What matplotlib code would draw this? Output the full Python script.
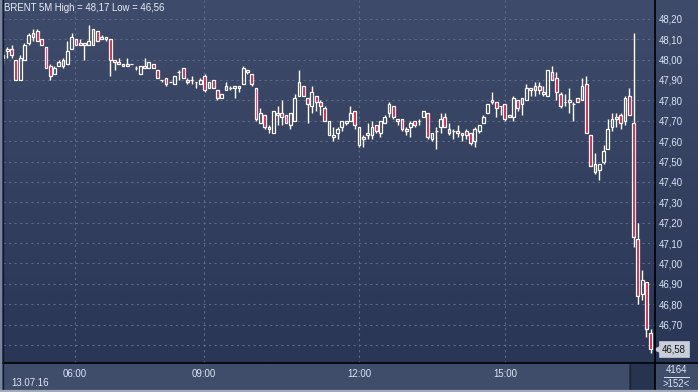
import numpy as np
import matplotlib.pyplot as plt
from matplotlib.lines import Line2D
from matplotlib.patches import Rectangle
from matplotlib.colors import LinearSegmentedColormap
from matplotlib.transforms import blended_transform_factory

plt.rcParams['font.family'] = ['Liberation Sans', 'DejaVu Sans']

# BRENT 5 minute candles, 13.07.16
opens = [48.01, 48.04, 48.05, 48.00, 47.90, 48.00, 48.08, 48.11, 48.14, 48.10,
         48.06, 47.97, 47.93, 47.97, 47.97, 47.98, 48.05, 48.10, 48.08, 48.07,
         48.07, 48.07, 48.14, 48.10, 48.10, 48.10, 48.00, 47.99, 47.98, 47.98,
         47.98, 47.96, 47.93, 47.97, 47.96, 47.98, 47.95, 47.90, 47.91, 47.89,
         47.88, 47.94, 47.96, 47.90, 47.90, 47.89, 47.88, 47.92, 47.86, 47.90,
         47.85, 47.81, 47.85, 47.86, 47.86, 47.86, 47.88, 47.95, 47.93, 47.86,
         47.69, 47.73, 47.66, 47.64, 47.74, 47.74, 47.73, 47.68, 47.70, 47.82,
         47.87, 47.81, 47.77, 47.82, 47.79, 47.76, 47.70, 47.62, 47.64, 47.67,
         47.69, 47.70, 47.75, 47.67, 47.61, 47.63, 47.63, 47.68, 47.64, 47.69,
         47.74, 47.77, 47.71, 47.71, 47.65, 47.67, 47.70, 47.70, 47.72, 47.74,
         47.61, 47.65, 47.67, 47.72, 47.66, 47.65, 47.65, 47.63, 47.65, 47.64,
         47.60, 47.65, 47.69, 47.74, 47.80, 47.79, 47.77, 47.78, 47.72, 47.72,
         47.80, 47.78, 47.80, 47.85, 47.87, 47.87, 47.83, 47.82, 47.94, 47.91,
         47.83, 47.79, 47.80, 47.78, 47.81, 47.80, 47.88, 47.63, 47.49, 47.46,
         47.50, 47.56, 47.67, 47.72, 47.73, 47.70, 47.82, 47.69, 47.12, 46.85,
         46.91, 46.66]
highs = [48.04, 48.06, 48.07, 48.00, 48.02, 48.08, 48.13, 48.15, 48.15, 48.10,
         48.06, 47.98, 47.97, 48.00, 48.01, 48.09, 48.13, 48.10, 48.10, 48.08,
         48.17, 48.15, 48.14, 48.12, 48.11, 48.10, 48.00, 48.01, 47.98, 48.01,
         47.98, 47.97, 47.97, 48.01, 47.99, 47.98, 47.95, 47.90, 47.91, 47.89,
         47.92, 47.95, 47.96, 47.91, 47.92, 47.89, 47.91, 47.93, 47.89, 47.90,
         47.85, 47.83, 47.89, 47.87, 47.87, 47.87, 47.97, 47.95, 47.93, 47.86,
         47.76, 47.73, 47.68, 47.75, 47.77, 47.80, 47.73, 47.74, 47.83, 47.95,
         47.87, 47.81, 47.87, 47.82, 47.80, 47.77, 47.70, 47.67, 47.67, 47.70,
         47.70, 47.77, 47.75, 47.67, 47.63, 47.69, 47.70, 47.68, 47.70, 47.73,
         47.79, 47.77, 47.71, 47.71, 47.67, 47.70, 47.70, 47.71, 47.75, 47.74,
         47.64, 47.67, 47.74, 47.74, 47.69, 47.66, 47.68, 47.64, 47.66, 47.64,
         47.67, 47.68, 47.73, 47.78, 47.84, 47.79, 47.77, 47.78, 47.73, 47.82,
         47.80, 47.81, 47.88, 47.86, 47.89, 47.89, 47.87, 47.95, 47.97, 47.94,
         47.84, 47.83, 47.86, 47.79, 47.81, 47.91, 47.92, 47.63, 47.54, 47.49,
         47.58, 47.71, 47.74, 47.74, 47.74, 47.82, 47.86, 48.13, 47.20, 46.97,
         46.91, 46.68]
lows = [47.98, 48.01, 48.01, 47.90, 47.90, 48.00, 48.07, 48.09, 48.09, 48.07,
        47.96, 47.90, 47.93, 47.97, 47.96, 47.98, 48.05, 48.07, 48.07, 48.00,
        48.07, 48.07, 48.09, 48.10, 48.09, 47.92, 47.95, 47.98, 47.97, 47.97,
        47.98, 47.95, 47.93, 47.96, 47.96, 47.96, 47.91, 47.89, 47.87, 47.89,
        47.88, 47.90, 47.91, 47.88, 47.88, 47.86, 47.88, 47.84, 47.86, 47.86,
        47.80, 47.81, 47.85, 47.85, 47.81, 47.84, 47.88, 47.93, 47.87, 47.70,
        47.69, 47.66, 47.64, 47.64, 47.68, 47.68, 47.69, 47.66, 47.70, 47.82,
        47.82, 47.69, 47.74, 47.75, 47.73, 47.70, 47.63, 47.60, 47.61, 47.65,
        47.68, 47.70, 47.66, 47.57, 47.57, 47.61, 47.61, 47.64, 47.62, 47.69,
        47.72, 47.71, 47.68, 47.65, 47.63, 47.62, 47.67, 47.68, 47.72, 47.61,
        47.60, 47.56, 47.64, 47.67, 47.63, 47.61, 47.62, 47.60, 47.61, 47.58,
        47.57, 47.64, 47.69, 47.74, 47.78, 47.72, 47.73, 47.70, 47.72, 47.70,
        47.75, 47.73, 47.80, 47.82, 47.82, 47.83, 47.82, 47.82, 47.90, 47.80,
        47.76, 47.77, 47.74, 47.70, 47.79, 47.80, 47.64, 47.48, 47.44, 47.41,
        47.49, 47.56, 47.65, 47.67, 47.66, 47.68, 47.73, 47.08, 46.80, 46.82,
        46.64, 46.56]
closes = [48.02, 48.05, 48.02, 47.90, 48.01, 48.07, 48.12, 48.13, 48.09, 48.07,
          47.96, 47.92, 47.96, 47.99, 48.00, 48.04, 48.11, 48.07, 48.07, 48.08,
          48.09, 48.15, 48.09, 48.11, 48.11, 48.00, 47.99, 47.98, 47.97, 47.97,
          47.98, 47.96, 47.97, 47.96, 47.99, 47.96, 47.91, 47.90, 47.88, 47.89,
          47.92, 47.94, 47.91, 47.89, 47.90, 47.89, 47.90, 47.85, 47.89, 47.86,
          47.81, 47.83, 47.87, 47.86, 47.87, 47.87, 47.96, 47.94, 47.88, 47.71,
          47.74, 47.67, 47.67, 47.75, 47.73, 47.72, 47.69, 47.74, 47.81, 47.89,
          47.82, 47.78, 47.84, 47.79, 47.77, 47.70, 47.63, 47.63, 47.66, 47.70,
          47.70, 47.74, 47.68, 47.58, 47.62, 47.64, 47.67, 47.65, 47.70, 47.72,
          47.78, 47.72, 47.70, 47.66, 47.66, 47.69, 47.68, 47.70, 47.75, 47.62,
          47.64, 47.65, 47.71, 47.67, 47.64, 47.65, 47.64, 47.64, 47.63, 47.59,
          47.66, 47.68, 47.72, 47.78, 47.79, 47.76, 47.77, 47.71, 47.73, 47.81,
          47.76, 47.81, 47.86, 47.86, 47.85, 47.85, 47.84, 47.95, 47.90, 47.84,
          47.77, 47.79, 47.79, 47.78, 47.79, 47.87, 47.64, 47.48, 47.45, 47.49,
          47.55, 47.66, 47.71, 47.71, 47.69, 47.81, 47.73, 47.13, 46.84, 46.92,
          46.68, 46.58]

time_labels = ['06:00', '09:00', '12:00', '15:00']
time_pos = [16.8, 46.9, 83.0, 117.0]
price_ticks = [46.60, 46.70, 46.80, 46.90, 47.00, 47.10, 47.20, 47.30, 47.40,
               47.50, 47.60, 47.70, 47.80, 47.90, 48.00, 48.10, 48.20]
title = 'BRENT 5M High = 48,17 Low = 46,56'
date_label = '13.07.16'
bars_total = '4164'
bars_shown = '>152<'

W, H = 698, 392
txt = '#dde6f7'
red = '#e3143e'
fs = 6.9

fig = plt.figure(figsize=(W / 100, H / 100), dpi=100)
fig.patch.set_facecolor('#3f4d6b')

# gradient behind chart and price column
bg = fig.add_axes([0, 29 / H, 1, 363 / H])
cmap = LinearSegmentedColormap.from_list('bg', ['#3e4b6a', '#293656'])
bg.imshow(np.linspace(0, 1, 256).reshape(-1, 1), aspect='auto', cmap=cmap,
          extent=[0, 1, 0, 1], origin='upper')
bg.axis('off')

ax = fig.add_axes([3 / W, 29 / H, 652 / W, 363 / H])
ax.set_facecolor('none')
for s in ax.spines.values():
    s.set_visible(False)

o = np.array(opens)
c = np.array(closes)
x = np.arange(len(o))
top = np.maximum(o, c)
bot = np.minimum(o, c)
up = c >= o

ax.vlines(x, top, highs, color='white', lw=1, zorder=3)
ax.vlines(x, lows, bot, color='white', lw=1, zorder=3)
ax.bar(x[up], (top - bot)[up], bottom=bot[up], width=0.65, facecolor='none',
       edgecolor='white', linewidth=0.9, zorder=4)
ax.bar(x[~up], (top - bot)[~up], bottom=bot[~up], width=0.65, facecolor=red,
       edgecolor='white', linewidth=0.9, zorder=4)

ax.set_xlim(0, 152)
ax.set_ylim(46.512, 48.292)
ax.set_yticks(price_ticks)
ax.set_yticklabels([f'{p:.2f}'.replace('.', ',') for p in price_ticks])
ax.yaxis.tick_right()
ax.set_xticks(time_pos)
ax.set_xticklabels(time_labels)
ax.tick_params(axis='y', length=0, pad=3, labelsize=fs, labelcolor=txt)
ax.tick_params(axis='x', length=0, pad=4, labelsize=fs, labelcolor=txt)
ax.set_axisbelow(True)
ax.grid(True, color='#5d6a87', linestyle=(0, (2, 3)), linewidth=0.8)

# last price tag
tr = blended_transform_factory(ax.transAxes, ax.transData)
last = closes[-1]
ax.plot([1.0 + 4 / 652], [last], marker='<', markersize=7, color='#c9ced8',
        transform=tr, clip_on=False, zorder=6)
ax.text(1.0 + 7 / 652, last, f'{last:.2f}'.replace('.', ','), transform=tr,
        ha='left', va='center', fontsize=fs, color='#151515', zorder=7,
        bbox=dict(boxstyle='square,pad=0.3', fc='#c9ced8', ec='#c9ced8', lw=0.5))

fig.text(4 / W, 1 - 8 / H, title, ha='left', va='center', fontsize=fs, color='#e8eef8')
fig.text(11 / W, 1 - 383 / H, date_label, ha='left', va='center', fontsize=fs, color=txt)

# bottom right counter
fig.patches.append(Rectangle((629 / W, 0), 26 / W, 28 / H, transform=fig.transFigure,
                             facecolor='#27344f', edgecolor='none'))
fig.lines.append(Line2D([629.5 / W, 629.5 / W], [0, 28 / H], transform=fig.transFigure,
                        color='#1c2538', lw=1))
fig.text(676 / W, 1 - 370 / H, bars_total, ha='center', va='center', fontsize=fs, color=txt)
fig.lines.append(Line2D([664 / W, 689 / W], [1 - 377 / H, 1 - 377 / H],
                        transform=fig.transFigure, color=txt, lw=0.7))
fig.text(676 / W, 1 - 384 / H, bars_shown, ha='center', va='center', fontsize=fs, color=txt)

# frame lines
fig.lines.append(Line2D([3 / W, 1], [29 / H, 29 / H], transform=fig.transFigure, color='black', lw=1.2))
fig.lines.append(Line2D([655 / W, 655 / W], [0, 1], transform=fig.transFigure, color='black', lw=1.2))
fig.lines.append(Line2D([0.8 / W, 0.8 / W], [0, 1], transform=fig.transFigure, color='#7b859b', lw=1.6))
fig.lines.append(Line2D([2.8 / W, 2.8 / W], [0, 1], transform=fig.transFigure, color='#141b2a', lw=1))
fig.lines.append(Line2D([0, 1], [0.8 / H, 0.8 / H], transform=fig.transFigure, color='#a3abbb', lw=1.6))

fig.savefig('out.png', dpi=100, facecolor=fig.get_facecolor())
